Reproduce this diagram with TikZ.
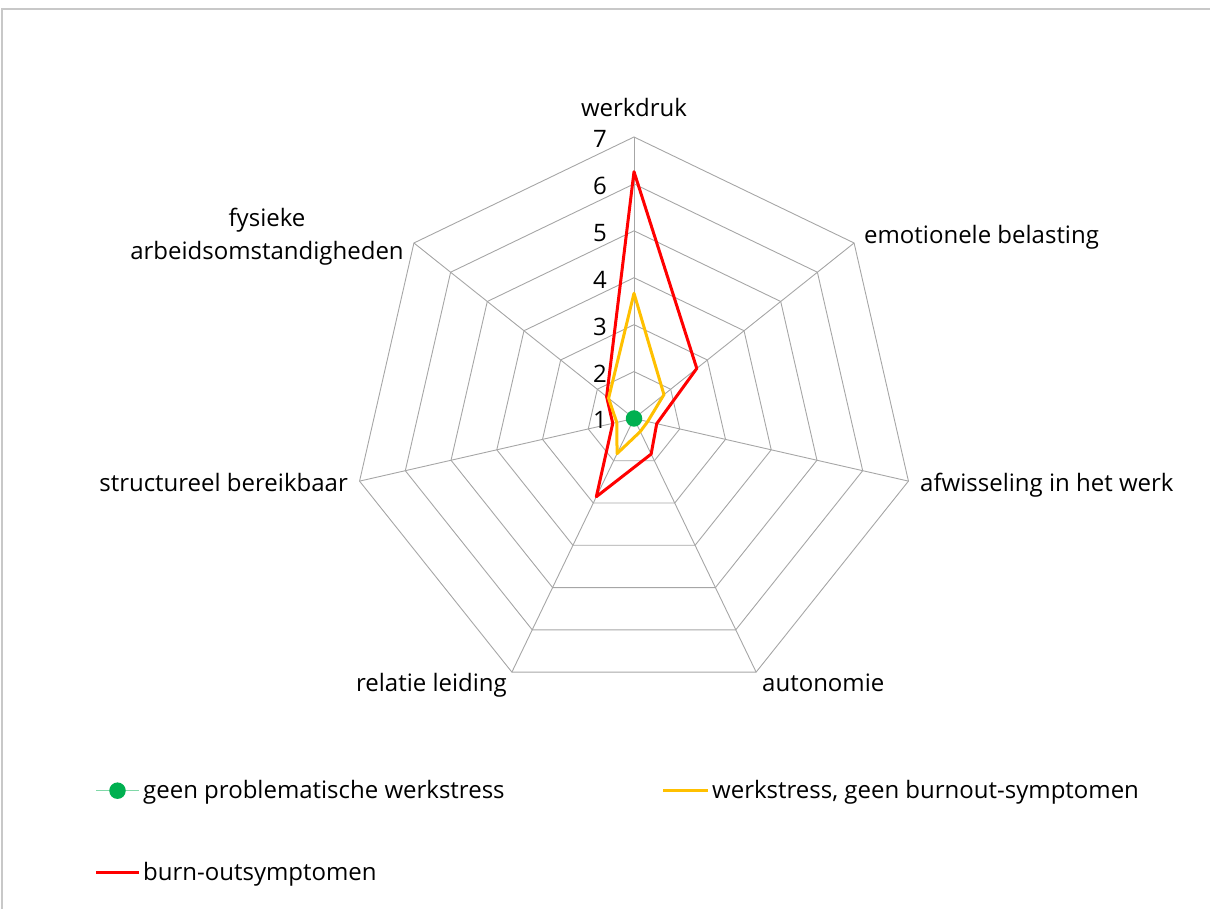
\documentclass[tikz,border=0pt]{standalone}
\usepackage{fontspec}
\setmainfont{Open Sans}
\definecolor{gridgray}{HTML}{A6A6A6}
\definecolor{framegray}{HTML}{C8C8C8}
\definecolor{sred}{HTML}{FF0000}
\definecolor{syel}{HTML}{FFC000}
\definecolor{sgrn}{HTML}{00B050}
\definecolor{lgrn}{HTML}{80D8A8}
\begin{document}
\begin{tikzpicture}[x=1pt,y=1pt,
  gridline/.style={draw=gridgray, line width=0.9pt},
  lbl/.style={inner sep=0pt, font=\fontsize{24}{32.5}\selectfont, text=black},
  redser/.style={draw=sred, line width=3pt, line join=round},
  yelser/.style={draw=syel, line width=3pt, line join=round},
  dotmark/.style={circle, fill=sgrn, inner sep=0pt, minimum size=16.5pt}
]
\useasboundingbox (0,0) rectangle (1210,909);
\draw[framegray, line width=1.2pt] (2,0) -- (2,900) -- (1212,900);

\begin{scope}[shift={(634,490.5)}]
  % grid rings
  \foreach \k in {1,...,6}
    \draw[gridline] (90:{\k*46.917}) \foreach \a in {1,...,6} { -- ({90-\a*360/7}:{\k*46.917}) } -- cycle;
  % spokes
  \foreach \a in {0,...,6}
    \draw[gridline] (0,0) -- ({90-\a*360/7}:281.5);
  % tick labels
  \foreach \k in {0,...,6} {
    \pgfmathtruncatemacro{\v}{\k+1}
    \node[lbl, anchor=base east] (t\v) at (-27,{\k*46.917-10.5}) {\v};
  }
  % red series
  \coordinate (r0) at (90:246.8);
  \coordinate (r1) at ({90-1*360/7}:80.3);
  \coordinate (r2) at ({90-2*360/7}:23.3);
  \coordinate (r3) at ({90-3*360/7}:39.5);
  \coordinate (r4) at ({90-4*360/7}:86.8);
  \coordinate (r5) at ({90-5*360/7}:21.8);
  \coordinate (r6) at ({90-6*360/7}:35);
  % yellow series
  \coordinate (y0) at (90:125.2);
  \coordinate (y1) at ({90-1*360/7}:38.3);
  \coordinate (y2) at ({90-2*360/7}:14);
  \coordinate (y3) at ({90-3*360/7}:14.5);
  \coordinate (y4) at ({90-4*360/7}:39);
  \coordinate (y5) at ({90-5*360/7}:17.7);
  \coordinate (y6) at ({90-6*360/7}:32.5);
  \draw[redser] (r0) -- (r1) -- (r2) -- (r3) -- (r4) -- (r5) -- (r6) -- cycle;
  \draw[yelser] (y0) -- (y1) -- (y2) -- (y3) -- (y4) -- (y5) -- (y6) -- cycle;
  \node[dotmark] (g0) at (0,0) {};
\end{scope}

% axis labels
\node[lbl, anchor=base] (werkdruk) at (634,792.5) {werkdruk};
\node[lbl, anchor=base west] (emo) at (864,665) {emotionele belasting};
\node[lbl, anchor=base west] (afw) at (920,417.5) {afwisseling in het werk};
\node[lbl, anchor=base west] (auto) at (762,217) {autonomie};
\node[lbl, anchor=base east] (rel) at (507,217) {relatie leiding};
\node[lbl, anchor=base east] (struct) at (348,417.5) {structureel bereikbaar};
\node[lbl, anchor=base, align=center] (fys) at (267,649.5) {fysieke\\arbeidsomstandigheden};

% legend
\coordinate (lg1a) at (96,118.3);
\coordinate (lg1b) at (139,118.3);
\draw[lgrn, line width=1.5pt] (lg1a) -- (lg1b);
\node[dotmark] (lgdot) at (117.5,118.3) {};
\node[lbl, anchor=base west] (leg1) at (143,110) {geen problematische werkstress};

\coordinate (lg2a) at (663,118.3);
\coordinate (lg2b) at (708,118.3);
\draw[syel, line width=3pt] (lg2a) -- (lg2b);
\node[lbl, anchor=base west] (leg2) at (712,110) {werkstress, geen burnout-symptomen};

\coordinate (lg3a) at (96,36.3);
\coordinate (lg3b) at (139,36.3);
\draw[sred, line width=3pt] (lg3a) -- (lg3b);
\node[lbl, anchor=base west] (leg3) at (143,28) {burn-outsymptomen};
\end{tikzpicture}
\end{document}
